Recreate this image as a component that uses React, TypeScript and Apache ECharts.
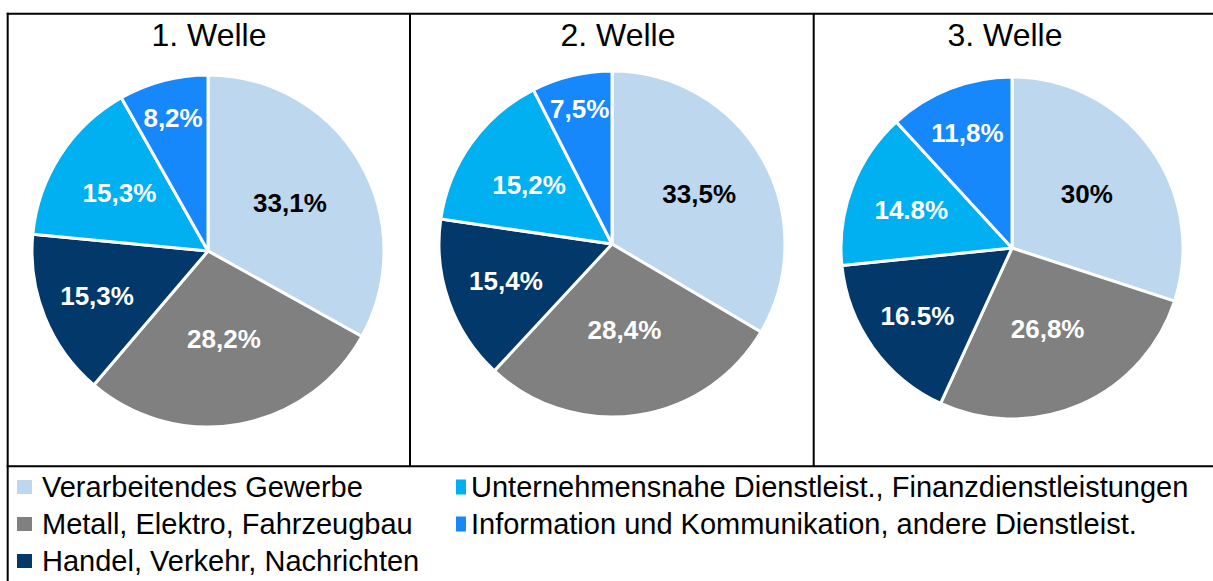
import React, { useEffect, useRef } from "react";
import * as echarts from "echarts";

// ---- data ----
const categories = [
  "Verarbeitendes Gewerbe",
  "Metall, Elektro, Fahrzeugbau",
  "Handel, Verkehr, Nachrichten",
  "Unternehmensnahe Dienstleist., Finanzdienstleistungen",
  "Information und Kommunikation, andere Dienstleist.",
];
const waveTitles = ["1. Welle", "2. Welle", "3. Welle"];
const wave1 = [33.1, 28.2, 15.3, 15.3, 8.2];
const wave2 = [33.5, 28.4, 15.4, 15.2, 7.5];
const wave3 = [30, 26.8, 16.5, 14.8, 11.8];
const wave1Labels = ["33,1%", "28,2%", "15,3%", "15,3%", "8,2%"];
const wave2Labels = ["33,5%", "28,4%", "15,4%", "15,2%", "7,5%"];
const wave3Labels = ["30%", "26,8%", "16.5%", "14.8%", "11,8%"];
const legendCol1 = [categories[0], categories[1], categories[2]];
const legendCol2 = [categories[3], categories[4]];

// ---- styles / layout ----
const FONT = '"Liberation Sans", Arial, Helvetica, sans-serif';
const colors = ["#BDD7EE", "#808080", "#03386A", "#00B0F0", "#1688FB"];
const labelColors = ["#000000", "#ffffff", "#ffffff", "#ffffff", "#ffffff"];
const pieCenters = [
  [208, 251],
  [612, 244],
  [1012, 248],
];
const pieRadii = [176, 173, 171];
const titleX = [209, 618, 1005];
const labelRadiusFactors = [
  [0.54, 0.51, 0.68, 0.6, 0.78],
  [0.58, 0.5, 0.65, 0.59, 0.8],
  [0.54, 0.52, 0.68, 0.63, 0.72],
];

const waves = [wave1, wave2, wave3];
const waveLabels = [wave1Labels, wave2Labels, wave3Labels];

function midAngle(values: number[], idx: number) {
  const total = values.reduce((a, b) => a + b, 0);
  let before = 0;
  for (let i = 0; i < idx; i++) before += values[i];
  return ((before + values[idx] / 2) / total) * 2 * Math.PI;
}

export default function App() {
  const ref = useRef<HTMLDivElement>(null);
  useEffect(() => {
    document.body.style.margin = "0";
    if (!ref.current) return;
    const chart = echarts.init(ref.current, null, { renderer: "svg" });

    const series = waves.map((vals, s) => ({
      type: "pie",
      name: waveTitles[s],
      center: pieCenters[s],
      radius: pieRadii[s],
      startAngle: 90,
      clockwise: true,
      avoidLabelOverlap: false,
      itemStyle: { borderColor: "#ffffff", borderWidth: 3 },
      emphasis: { disabled: true },
      label: {
        show: true,
        position: "inside",
        fontFamily: FONT,
        fontSize: 26,
        fontWeight: "bold",
      },
      labelLine: { show: false },
      labelLayout: (p: any) => {
        const a = midAngle(vals, p.dataIndex);
        const rr = pieRadii[s] * labelRadiusFactors[s][p.dataIndex];
        return {
          x: pieCenters[s][0] + rr * Math.sin(a),
          y: pieCenters[s][1] - rr * Math.cos(a),
          align: "center",
          verticalAlign: "middle",
        };
      },
      data: vals.map((v, i) => ({
        name: categories[i],
        value: v,
        itemStyle: { color: colors[i] },
        label: { formatter: waveLabels[s][i], color: labelColors[i] },
      })),
    }));

    const lineStyle = { stroke: "#000000", lineWidth: 2 };
    const graphic: any[] = [
      { type: "line", shape: { x1: 6.7, y1: 13.7, x2: 1213, y2: 13.7 }, style: lineStyle },
      { type: "line", shape: { x1: 7.7, y1: 12.7, x2: 7.7, y2: 581 }, style: lineStyle },
      { type: "line", shape: { x1: 6.7, y1: 466.3, x2: 1213, y2: 466.3 }, style: lineStyle },
      { type: "line", shape: { x1: 410, y1: 13.7, x2: 410, y2: 466.3 }, style: lineStyle },
      { type: "line", shape: { x1: 813.7, y1: 13.7, x2: 813.7, y2: 466.3 }, style: lineStyle },
      ...waveTitles.map((t, i) => ({
        type: "text",
        x: titleX[i],
        y: 35,
        style: {
          text: t,
          fill: "#000000",
          font: `32px ${FONT}`,
          align: "center",
          verticalAlign: "middle",
        },
      })),
    ];

    const legendText = {
      fontFamily: FONT,
      fontSize: 29,
      color: "#000000",
      lineHeight: 30,
    };

    chart.setOption({
      animation: false,
      backgroundColor: "#ffffff",
      color: colors,
      legend: [
        {
          data: legendCol1,
          orient: "vertical",
          left: 17,
          top: 472,
          padding: 0,
          itemWidth: 15,
          itemHeight: 14,
          itemGap: 7,
          icon: "rect",
          selectedMode: false,
          itemStyle: { borderWidth: 0 },
          textStyle: { ...legendText, padding: [0, 0, 0, 5] },
        },
        {
          data: legendCol2,
          orient: "vertical",
          left: 456,
          top: 472,
          padding: 0,
          itemWidth: 10,
          itemHeight: 15,
          itemGap: 7,
          icon: "rect",
          selectedMode: false,
          itemStyle: { borderWidth: 0 },
          textStyle: legendText,
        },
      ],
      graphic,
      series,
    });
    return () => chart.dispose();
  }, []);
  return <div ref={ref} style={{ width: 1213, height: 581 }} />;
}
